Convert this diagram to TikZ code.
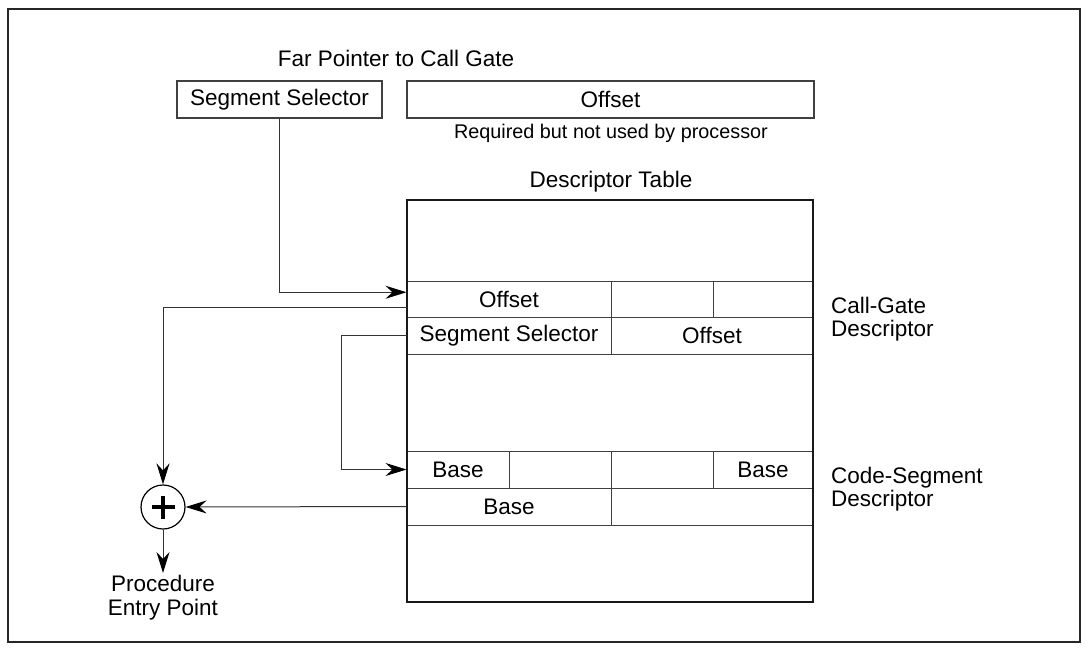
\documentclass[tikz,border=0pt]{standalone}
\usepackage{fontspec}
\setmainfont{Liberation Sans}
\usetikzlibrary{arrows.meta,calc}
\tikzset{
  txt/.style={font=\fontsize{22.5}{24}\selectfont, inner sep=0pt},
  small/.style={font=\fontsize{19.8}{22}\selectfont, inner sep=0pt},
  lbl/.style={font=\fontsize{22.5}{23.5}\selectfont, inner sep=0pt, align=left, anchor=west},
  cell/.style={draw=black!75, line width=1pt, inner sep=0pt, font=\fontsize{22.5}{24}\selectfont},
  conn/.style={draw=black!80, line width=1pt, -{Stealth[length=21pt,width=13pt,inset=7pt,black]}},
  plain/.style={draw=black!80, line width=1pt}
}
\begin{document}
\begin{tikzpicture}[x=1pt,y=-1pt]
\useasboundingbox (0,0) rectangle (1086,648);
\draw[black!85, line width=2pt] (7.5,8.5) rectangle (1080,642);

% top
\node[txt] (fp) at (396,58) {Far Pointer to Call Gate};
\node[cell, line width=1.2pt, minimum width=205pt, minimum height=37pt] (ss) at (279.5,99.5) {Segment Selector};
\node[cell, line width=1.2pt, minimum width=407pt, minimum height=37pt] (off) at (610.5,99.5) {Offset};
\node[small] (req) at (611,133) {Required but not used by processor};
\node[txt] (dt) at (611,182) {Descriptor Table};

% call-gate descriptor
\node[cell, minimum width=204pt, minimum height=36.5pt] (cgA) at (509,299.25) {Offset};
\node[cell, minimum width=102pt, minimum height=36.5pt] (cgB) at (662,299.25) {};
\node[cell, minimum width=100pt, minimum height=36.5pt] (cgC) at (763,299.25) {};
\node[cell, minimum width=204pt, minimum height=36.5pt] (cgSel) at (509,335.75) {Segment Selector};
\node[cell, minimum width=202pt, minimum height=36.5pt] (cgOff) at (712,335.75) {Offset};

% code-segment descriptor
\node[cell, minimum width=102pt, minimum height=37pt] (csA) at (458,469.5) {Base};
\node[cell, minimum width=102pt, minimum height=37pt] (csB) at (560,469.5) {};
\node[cell, minimum width=102pt, minimum height=37pt] (csC) at (662,469.5) {};
\node[cell, minimum width=100pt, minimum height=37pt] (csD) at (763,469.5) {Base};
\node[cell, minimum width=204pt, minimum height=37pt] (csE) at (509,506.5) {Base};
\node[cell, minimum width=202pt, minimum height=37pt] (csF) at (712,506.5) {};

% table outline
\node[draw=black!90, line width=1.5pt, minimum width=406pt, minimum height=402pt, inner sep=0pt] (tbl) at (610,401) {};

% side labels
\node[lbl] (cgl) at (831,319) {Call-Gate\\Descriptor};
\node[lbl] (csl) at (831,489) {Code-Segment\\Descriptor};

% adder
\node[draw=black, line width=1.2pt, circle, minimum size=44pt, inner sep=0pt] (plus) at (163,507) {};
\draw[line width=3.8pt] ([xshift=-11.5pt]plus.center) -- ([xshift=11.5pt]plus.center);
\draw[line width=3.8pt] ([yshift=-11.5pt]plus.center) -- ([yshift=11.5pt]plus.center);

\node[txt, align=center, anchor=north, inner sep=2pt] (proc) at (163,573) {Procedure\\Entry Point};

% connector anchor points on the table edge
\coordinate (in1) at ($(cgA.west)+(0,-7)$);
\coordinate (out1) at ($(cgA.west)+(0,8)$);
\coordinate (out2) at (cgSel.west);
\coordinate (in2) at (csA.west);
\coordinate (out3) at (csE.west);
\coordinate (bend2) at (341,0);

\draw[conn] (ss.south) |- (in1);
\draw[conn] (out1) -| (plus.north);
\draw[conn] (out2) -- (bend2 |- out2) -- (bend2 |- in2) -- (in2);
\draw[conn] (out3) -- (plus.east);
\draw[conn] (plus.south) -- (proc.north);
\end{tikzpicture}
\end{document}
